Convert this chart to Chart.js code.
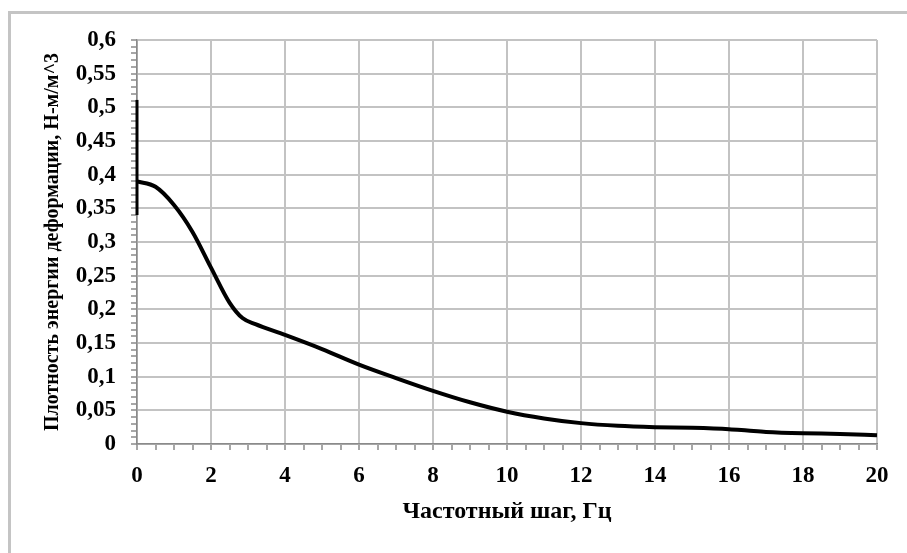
<!DOCTYPE html>
<html lang="ru">
<head>
<meta charset="utf-8">
<title>Плотность энергии деформации</title>
<script src="https://cdn.jsdelivr.net/npm/chart.js@4/dist/chart.umd.min.js"></script>
<style>
  html, body { margin: 0; padding: 0; background: #fff; overflow: hidden; }
  #wrap { position: relative; width: 907px; height: 553px; }
  #frame {
    position: absolute; left: 8px; top: 11px; width: 920px; height: 560px;
    border: 3px solid #c4c4c4; box-sizing: border-box;
  }
  canvas { position: absolute; left: 0; top: 0; }
</style>
</head>
<body>
<div id="wrap">
  <div id="frame"></div>
  <canvas id="chart" width="907" height="553"></canvas>
</div>
<script>
// Частотный шаг, Гц
const frequency = [0, 0.5, 1, 1.5, 2, 2.5, 2.85, 3.2, 4, 5, 6, 7, 8, 9, 10, 11, 12, 13, 14, 15, 16, 16.5, 17, 18, 19, 20];
// Плотность энергии деформации, Н-м/м^3
const density = [0.39, 0.382, 0.355, 0.315, 0.262, 0.21, 0.187, 0.178, 0.162, 0.141, 0.118, 0.098, 0.079, 0.062, 0.048, 0.038, 0.031, 0.027, 0.025, 0.024, 0.022, 0.02, 0.018, 0.016, 0.015, 0.013];
// vertical jump at the origin
const spikeFrequency = [0, 0];
const spikeDensity = [0.34, 0.511];

// axis ranges / steps (major labelled, minor tick marks only)
const xRange = [0, 20];
const xMajor = 2;
const xMinor = 0.5;
const yRange = [0, 0.6];
const yMajor = 0.05;
const yMinor = 0.01;

const xTitle = 'Частотный шаг, Гц';
const yTitle = 'Плотность энергии деформации, Н-м/м^3';

const toPoints = (xs, ys) => xs.map((x, i) => ({ x, y: ys[i] }));
const isMultiple = (v, step) => Math.abs(v / step - Math.round(v / step)) < 1e-6;
const fmt = v => String(Math.round(v * 100) / 100).replace('.', ',');

const gridColor = '#c3c3c3';
const axisColor = '#8a8a8a';
const serif = '"Liberation Serif", "Times New Roman", serif';

const PLOT = { left: 137, top: 40, right: 877, bottom: 444 };
const W = 907, H = 553;

new Chart(document.getElementById('chart'), {
  type: 'line',
  data: {
    datasets: [
      {
        data: toPoints(frequency, density),
        borderColor: '#000',
        borderWidth: 4,
        pointRadius: 0,
        cubicInterpolationMode: 'monotone',
        clip: 6
      },
      {
        data: toPoints(spikeFrequency, spikeDensity),
        borderColor: '#000',
        borderWidth: 3,
        pointRadius: 0,
        clip: 6
      }
    ]
  },
  options: {
    responsive: false,
    animation: false,
    events: [],
    layout: { padding: { top: PLOT.top, right: W - PLOT.right, left: 0, bottom: 0 } },
    plugins: { legend: { display: false }, tooltip: { enabled: false } },
    scales: {
      x: {
        type: 'linear',
        min: xRange[0], max: xRange[1],
        afterFit: s => { s.height = H - PLOT.bottom; },
        ticks: {
          stepSize: xMinor, autoSkip: false, maxRotation: 0,
          padding: 12,
          color: '#000',
          font: { family: serif, size: 23, weight: 'bold' },
          callback: v => isMultiple(v, xMajor) ? fmt(v) : ''
        },
        grid: {
          color: c => isMultiple(c.tick.value, xMajor) ? gridColor : 'rgba(0,0,0,0)',
          lineWidth: 2,
          tickColor: axisColor,
          tickWidth: 1.5,
          tickLength: 6
        },
        border: { color: axisColor, width: 1.5 },
        title: {
          display: true, text: xTitle, color: '#000',
          font: { family: serif, size: 24, weight: 'bold' },
          padding: { top: 0, bottom: 27 }
        }
      },
      y: {
        type: 'linear',
        min: yRange[0], max: yRange[1],
        afterFit: s => { s.width = PLOT.left; },
        ticks: {
          stepSize: yMinor, autoSkip: false,
          padding: 15,
          color: '#000',
          font: { family: serif, size: 23, weight: 'bold' },
          callback: v => isMultiple(v, yMajor) ? fmt(v) : ''
        },
        grid: {
          color: c => isMultiple(c.tick.value, yMajor) ? gridColor : 'rgba(0,0,0,0)',
          lineWidth: 2,
          tickColor: axisColor,
          tickWidth: 1.5,
          tickLength: 6
        },
        border: { color: axisColor, width: 1.5 },
        title: {
          display: true, text: yTitle, color: '#000',
          font: { family: serif, size: 20, weight: 'bold' },
          padding: { top: 41, bottom: 0 }
        }
      }
    }
  }
});
</script>
</body>
</html>
